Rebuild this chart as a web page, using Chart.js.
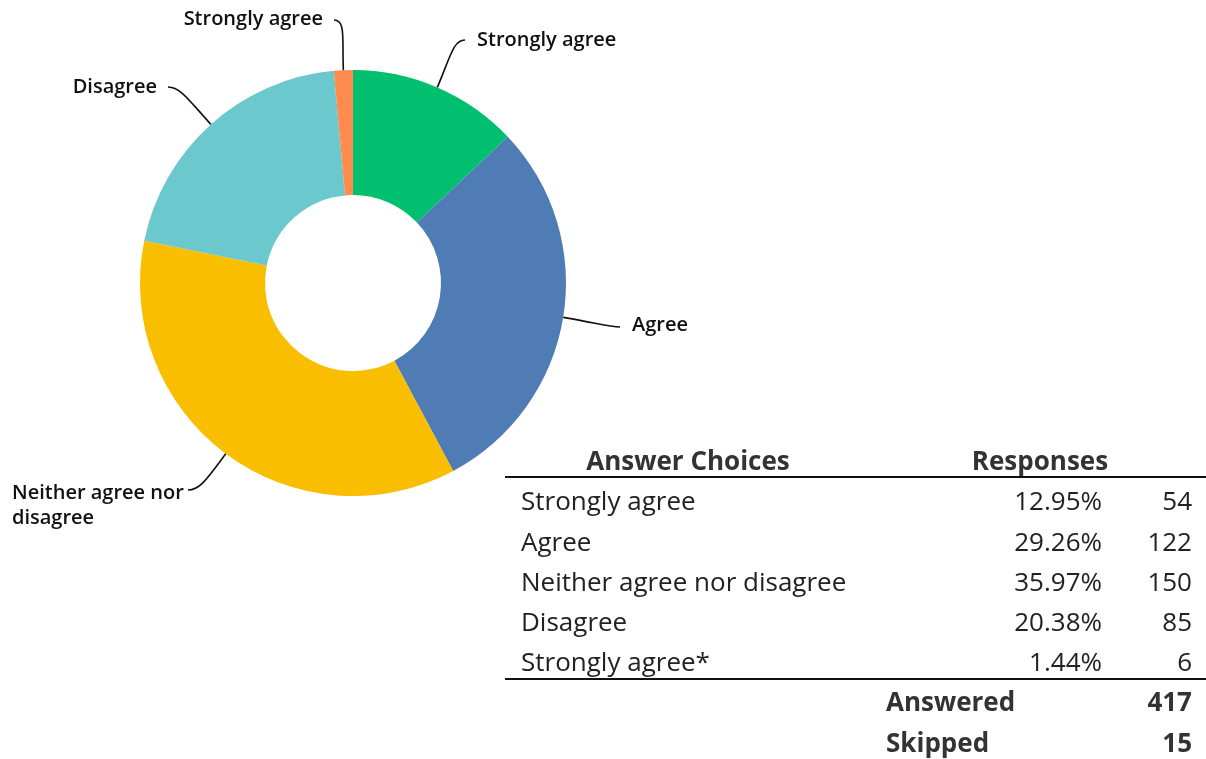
<!DOCTYPE html>
<html>
<head>
<meta charset="utf-8">
<script src="https://cdn.jsdelivr.net/npm/chart.js@4/dist/chart.umd.min.js"></script>
<style>
  html, body { margin: 0; padding: 0; background: #fff; }
  #wrap { position: relative; width: 1206px; height: 759px; overflow: hidden; }
  #pie { position: absolute; left: 0; top: 0; }
  .cell { position: absolute; height: 40px; line-height: 40px; font-family: "Open Sans", sans-serif; font-size: 26px; color: #222; white-space: nowrap; }
  .bold { font-weight: 700; color: #333; }
  .rule { position: absolute; left: 505px; width: 701px; height: 2px; background: #111; }
</style>
</head>
<body>
<div id="wrap">
  <canvas id="pie" width="1206" height="759"></canvas>
  <div id="table"></div>
</div>
<script>
const choices = ["Strongly agree", "Agree", "Neither agree nor disagree", "Disagree", "Strongly agree"];
const tableChoices = ["Strongly agree", "Agree", "Neither agree nor disagree", "Disagree", "Strongly agree*"];
const responses = [54, 122, 150, 85, 6];
const answered = 417;
const skipped = 15;
const colors = ["#00BF6F", "#507CB6", "#F9BE00", "#6BC8CD", "#FF8B4F"];

// leader label layout: line end point, text anchor, alignment
const labelLayout = [
  { end: [465, 40], tx: 477, ty: 40, align: "left", lines: ["Strongly agree"] },
  { end: [620, 327], tx: 632, ty: 325, align: "left", lines: ["Agree"] },
  { end: [188, 490], tx: 12, ty: 493, align: "left", lines: ["Neither agree nor", "disagree"] },
  { end: [168, 87], tx: 157, ty: 87, align: "right", lines: ["Disagree"] },
  { end: [334, 20], tx: 323, ty: 19, align: "right", lines: ["Strongly agree"] },
];

const leaderPlugin = {
  id: "leaders",
  afterDraw(chart) {
    const c = chart.ctx;
    const arcs = chart.getDatasetMeta(0).data;
    c.save();
    c.strokeStyle = "#111";
    c.lineWidth = 1.6;
    c.fillStyle = "#111";
    c.font = "600 20px 'Open Sans'";
    c.textBaseline = "middle";
    arcs.forEach((arc, i) => {
      const L = labelLayout[i];
      const mid = (arc.startAngle + arc.endAngle) / 2;
      const sx = arc.x + Math.cos(mid) * arc.outerRadius;
      const sy = arc.y + Math.sin(mid) * arc.outerRadius;
      const [ex, ey] = L.end;
      const dir = ex > arc.x ? 1 : -1;
      const d = Math.hypot(ex - sx, ey - sy);
      c.beginPath();
      c.moveTo(sx, sy);
      c.bezierCurveTo(sx + Math.cos(mid) * d * 0.6, sy + Math.sin(mid) * d * 0.6,
        ex - dir * 12, ey, ex, ey);
      c.stroke();
      c.textAlign = L.align;
      L.lines.forEach((t, k) => c.fillText(t, L.tx, L.ty + k * 25));
    });
    c.restore();
  },
};

new Chart(document.getElementById("pie"), {
  type: "doughnut",
  data: {
    labels: choices,
    datasets: [{ data: responses, backgroundColor: colors, borderWidth: 0 }],
  },
  options: {
    responsive: false,
    animation: false,
    cutout: "41.3%",
    layout: { padding: { left: 140, top: 70, right: 640, bottom: 263 } },
    plugins: { legend: { display: false }, tooltip: { enabled: false } },
  },
  plugins: [leaderPlugin],
});

// table
const table = document.getElementById("table");
function cell(text, x, y, align, bold) {
  const d = document.createElement("div");
  d.className = "cell" + (bold ? " bold" : "");
  d.textContent = text;
  d.style.top = (y - 20) + "px";
  if (align === "right") d.style.right = (1206 - x) + "px";
  else if (align === "center") { d.style.left = (x - 200) + "px"; d.style.width = "400px"; d.style.textAlign = "center"; }
  else d.style.left = x + "px";
  table.appendChild(d);
}
function rule(y) {
  const d = document.createElement("div");
  d.className = "rule";
  d.style.top = y + "px";
  table.appendChild(d);
}
cell("Answer Choices", 688, 460, "center", true);
cell("Responses", 1040, 460, "center", true);
rule(476);
const rowY = [500, 541, 581, 621, 661];
tableChoices.forEach((name, i) => {
  cell(name, 521, rowY[i], "left");
  cell((responses[i] / answered * 100).toFixed(2) + "%", 1102, rowY[i], "right");
  cell(String(responses[i]), 1192, rowY[i], "right");
});
rule(678);
cell("Answered", 886, 701, "left", true);
cell(String(answered), 1192, 701, "right", true);
cell("Skipped", 886, 742, "left", true);
cell(String(skipped), 1192, 742, "right", true);
</script>
</body>
</html>
